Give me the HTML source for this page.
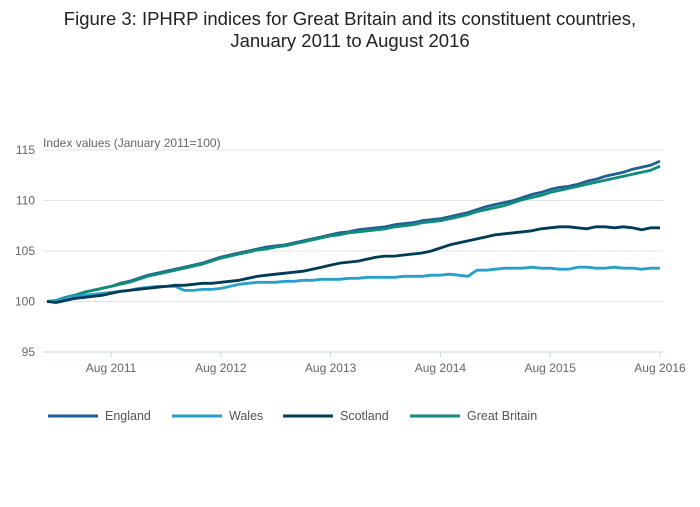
<!DOCTYPE html>
<html><head><meta charset="utf-8"><style>
body{margin:0;background:#fff;font-family:"Liberation Sans",sans-serif}
</style></head><body>
<svg id="c" width="700" height="502" xmlns="http://www.w3.org/2000/svg">
<text x="350" y="25" text-anchor="middle" font-size="18.5" fill="#222">Figure 3: IPHRP indices for Great Britain and its constituent countries,</text>
<text x="350" y="47" text-anchor="middle" font-size="18.5" fill="#222">January 2011 to August 2016</text>
<text x="43" y="147" font-size="12" fill="#666">Index values (January 2011=100)</text>
<g id="grid"></g><g id="lines"></g><g id="legend"></g>
</svg>
<script>
const yTicks=[95,100,105,110,115];
const xTickLabels=["Aug 2011","Aug 2012","Aug 2013","Aug 2014","Aug 2015","Aug 2016"];
const xTickIndex=[7,19,31,43,55,67];
const seriesNames=["England","Wales","Scotland","Great Britain"];
const seriesColors=["#206095","#27a0cc","#003c57","#118c7b"];
const england=[100.0,100.1,100.4,100.6,100.9,101.1,101.3,101.5,101.8,102.0,102.3,102.6,
102.8,103.0,103.2,103.4,103.6,103.8,104.1,104.4,104.6,104.8,105.0,105.2,
105.4,105.5,105.6,105.8,106.0,106.2,106.4,106.6,106.8,106.9,107.1,107.2,
107.3,107.4,107.6,107.7,107.8,108.0,108.1,108.2,108.4,108.6,108.8,109.1,
109.4,109.6,109.8,110.0,110.3,110.6,110.8,111.1,111.3,111.4,111.6,111.9,
112.1,112.4,112.6,112.8,113.1,113.3,113.5,113.9];
const wales=[100.0,100.1,100.3,100.5,100.6,100.7,100.8,100.9,101.0,101.1,101.3,101.4,
101.5,101.5,101.5,101.1,101.1,101.2,101.2,101.3,101.5,101.7,101.8,101.9,
101.9,101.9,102.0,102.0,102.1,102.1,102.2,102.2,102.2,102.3,102.3,102.4,
102.4,102.4,102.4,102.5,102.5,102.5,102.6,102.6,102.7,102.6,102.5,103.1,
103.1,103.2,103.3,103.3,103.3,103.4,103.3,103.3,103.2,103.2,103.4,103.4,
103.3,103.3,103.4,103.3,103.3,103.2,103.3,103.3];
const scotland=[100.0,99.9,100.1,100.3,100.4,100.5,100.6,100.8,101.0,101.1,101.2,101.3,
101.4,101.5,101.6,101.6,101.7,101.8,101.8,101.9,102.0,102.1,102.3,102.5,
102.6,102.7,102.8,102.9,103.0,103.2,103.4,103.6,103.8,103.9,104.0,104.2,
104.4,104.5,104.5,104.6,104.7,104.8,105.0,105.3,105.6,105.8,106.0,106.2,
106.4,106.6,106.7,106.8,106.9,107.0,107.2,107.3,107.4,107.4,107.3,107.2,
107.4,107.4,107.3,107.4,107.3,107.1,107.3,107.3];
const greatBritain=[100.0,100.1,100.4,100.6,100.9,101.1,101.3,101.5,101.7,101.9,102.2,102.5,
102.7,102.9,103.1,103.3,103.5,103.7,104.0,104.3,104.5,104.7,104.9,105.1,
105.2,105.4,105.5,105.7,105.9,106.1,106.3,106.5,106.6,106.8,106.9,107.0,
107.1,107.2,107.4,107.5,107.6,107.8,107.9,108.0,108.2,108.4,108.6,108.9,
109.1,109.3,109.5,109.8,110.1,110.3,110.5,110.8,111.0,111.2,111.4,111.6,
111.8,112.0,112.2,112.4,112.6,112.8,113.0,113.4];
const seriesData=[england,wales,scotland,greatBritain];

const NS="http://www.w3.org/2000/svg";
const X0=47,X1=660,Y0=352,Y1=150;
const x=i=>X0+(X1-X0)*i/67;
const y=v=>Y0-(v-95)/20*(Y0-Y1);
function mk(t,a,p){const e=document.createElementNS(NS,t);for(const k in a)e.setAttribute(k,a[k]);p.appendChild(e);return e;}
const grid=document.getElementById('grid');
yTicks.forEach(t=>{
  const l=mk('line',{x1:43,x2:X1+3,y1:y(t),y2:y(t),stroke:t===95?'#c8d4e8':'#e3e3e3','stroke-width':1},grid);
  
  
  const tx=mk('text',{x:35,y:y(t)+4,'font-size':12,fill:'#666','text-anchor':'end'},grid);tx.textContent=t;
  
  
});
xTickLabels.forEach((lab,k)=>{
  const xx=x(xTickIndex[k]);
  const l=mk('line',{x1:xx,x2:xx,y1:Y0,y2:Y0+5,stroke:'#c8d4e8'},grid);
  
  
  const tx=mk('text',{x:xx,y:Y0+20,'font-size':12,fill:'#666','text-anchor':'middle'},grid);tx.textContent=lab;
  
  
});
const lines=document.getElementById('lines');
[0,3,1,2].forEach(s=>{
  const d=seriesData[s].map((v,i)=>(i?'L':'M')+x(i).toFixed(1)+','+y(v).toFixed(1)).join('');
  const p=mk('path',{d:d,fill:'none',stroke:seriesColors[s],'stroke-width':2.8,'stroke-linejoin':'round'},lines);
  
  
});
const lg=document.getElementById('legend');
const lx=[48,172,283,410];
seriesNames.forEach((n,s)=>{
  const g=mk('g',{},lg);
  
  
  mk('line',{x1:lx[s],x2:lx[s]+50,y1:416,y2:416,stroke:seriesColors[s],'stroke-width':3},g);
  const t=mk('text',{x:lx[s]+57,y:420,'font-size':12.5,fill:'#555'},g);t.textContent=n;
});
</script>
</body></html>
